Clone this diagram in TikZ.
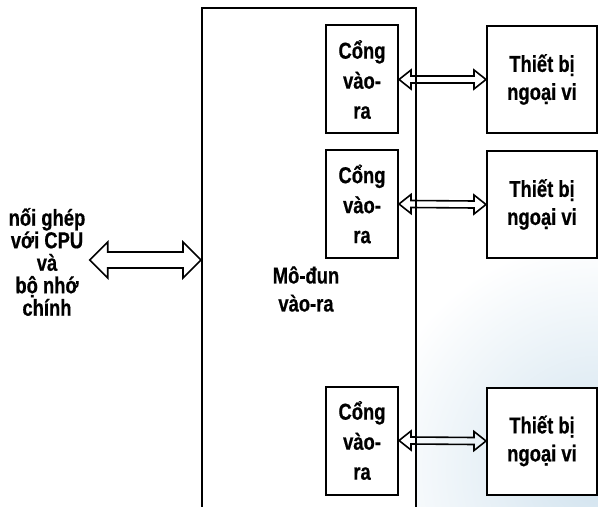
\documentclass[tikz,border=0pt]{standalone}
\usepackage{fontspec}
\setmainfont{Liberation Sans}[FakeStretch=0.8, BoldFeatures={FakeBold=0.6}]
\usetikzlibrary{calc}
\definecolor{nenxanh}{RGB}{208,226,238}
\tikzset{
	box/.style={draw, line width=1pt, fill=white, inner sep=0pt, align=center},
	port box/.style={box, minimum width=36pt, minimum height=54pt, font=\fontsize{11.5pt}{15pt}\bfseries\selectfont},
	device box/.style={box, minimum width=55pt, minimum height=53.5pt, font=\fontsize{11.5pt}{14pt}\bfseries\selectfont},
	hollow arrow/.style n args={3}{
		draw, line width=0.8pt, line join=miter,
		to path={
			let \p1=(\tikztostart), \p2=(\tikztotarget) in
			(\x1,\y1) -- (\x1+#3,\y1+#2) -- (\x1+#3,\y1+#1) -- (\x2-#3,\y2+#1) -- (\x2-#3,\y2+#2)
			-- (\x2,\y2) -- (\x2-#3,\y2-#2) -- (\x2-#3,\y2-#1) -- (\x1+#3,\y1-#1) -- (\x1+#3,\y1-#2) -- cycle
		}
	}
}

\begin{document}
\begin{tikzpicture}[x=0.5pt, y=-0.5pt]
	\useasboundingbox (0,0) rectangle (598,507);
	\begin{scope}
		\clip (416,0) rectangle (598,507);
		\shade[inner color=nenxanh, outer color=white] (600,470) circle (230);
	\end{scope}
	\node[draw, line width=1pt, minimum width=107pt, minimum height=252pt] (modul) at (309,260) {};
	\node[font=\fontsize{11.5pt}{14pt}\bfseries\selectfont, align=center] (nhan) at (306,289) {Mô-đun\\vào-ra};
	\node[font=\fontsize{11.5pt}{11.25pt}\bfseries\selectfont, align=center, inner sep=2pt] (cpu) at (47,262)
		{nối ghép\\với CPU\\và\\bộ nhớ\\chính};
	\node[port box] (cong1) at (362,79.5) {Cổng\\vào-\\ra};
	\node[port box] (cong2) at (362,204) {Cổng\\vào-\\ra};
	\node[port box] (cong3) at (362,440.5) {Cổng\\vào-\\ra};
	\node[device box] (tb1) at (542,79.5) {Thiết bị\\ngoại vi};
	\node[device box] (tb2) at (542,204.5) {Thiết bị\\ngoại vi};
	\node[device box] (tb3) at (542,441) {Thiết bị\\ngoại vi};
	\draw[hollow arrow={1.75pt}{4.75pt}{6pt}] (cong1.east) to (tb1.west);
	\draw[hollow arrow={1.75pt}{4.75pt}{6pt}] (cong2.east) to (tb2.west);
	\draw[hollow arrow={1.75pt}{4.75pt}{6pt}] (cong3.east) to (tb3.west);
	\draw[hollow arrow={4pt}{9pt}{9pt}] (cpu.east |- modul.west) to (modul.west);
\end{tikzpicture}
\end{document}
